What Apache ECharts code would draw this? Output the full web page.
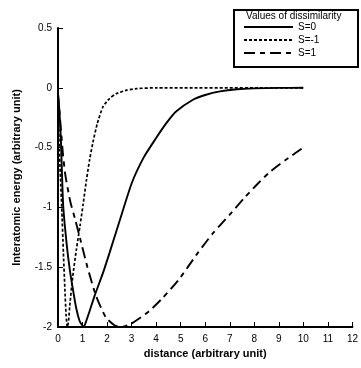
<!DOCTYPE html>
<html><head><meta charset="utf-8">
<script src="https://cdn.jsdelivr.net/npm/echarts@6/dist/echarts.min.js"></script>
<style>html,body{margin:0;padding:0;background:#fff}#c{width:361px;height:368px}</style>
</head><body><div id="c"></div>
<script>
var xTicks = [0,1,2,3,4,5,6,7,8,9,10,11,12];
var yTicks = [-2,-1.5,-1,-0.5,0,0.5];
var seriesNames = ['S=0','S=-1','S=1'];
var s0 = [[0,-0.05],[0.06,-0.2],[0.12,-0.45],[0.21,-0.98],[0.35,-1.3],[0.48,-1.52],[0.62,-1.7],[0.75,-1.85],[0.88,-1.95],[1.0,-1.99],[1.05,-2],[1.15,-1.95],[1.3,-1.86],[1.49,-1.74],[1.83,-1.55],[2.1,-1.38],[2.5,-1.12],[3.0,-0.8],[3.5,-0.58],[4.0,-0.42],[4.4,-0.3],[4.8,-0.2],[5.5,-0.1],[6.0,-0.06],[6.6,-0.03],[7.3,-0.012],[8,-0.005],[9,-0.001],[10,0]];
var s1m = [[0,-0.05],[0.04,-0.43],[0.1,-0.75],[0.15,-0.99],[0.22,-1.38],[0.28,-1.68],[0.33,-1.9],[0.38,-2],[0.43,-1.95],[0.48,-1.82],[0.6,-1.58],[0.75,-1.35],[0.9,-1.15],[1.02,-0.98],[1.16,-0.77],[1.29,-0.6],[1.42,-0.46],[1.6,-0.3],[1.83,-0.16],[2.1,-0.09],[2.37,-0.05],[2.8,-0.02],[3.2,-0.007],[4,0],[10,0]];
var s1 = [[0,-0.05],[0.1,-0.3],[0.2,-0.55],[0.3,-0.73],[0.5,-0.95],[0.7,-1.1],[0.9,-1.26],[1.2,-1.5],[1.55,-1.74],[1.95,-1.92],[2.3,-1.985],[2.6,-2],[3.0,-1.97],[3.7,-1.87],[4.25,-1.76],[4.9,-1.61],[5.7,-1.38],[6.3,-1.22],[7.0,-1.06],[7.6,-0.92],[8.15,-0.8],[8.6,-0.71],[9.3,-0.6],[10,-0.5]];

var chart = echarts.init(document.getElementById('c'), null, {renderer:'canvas'});
var ff = 'Liberation Sans, Arial, sans-serif';
chart.setOption({
  animation:false,
  color:['#000','#000','#000'],
  grid:{left:58,right:5,top:28,bottom:41},
  xAxis:{type:'value',min:0,max:12,interval:1,
    name:'distance (arbitrary unit)',nameLocation:'middle',nameGap:18,
    nameTextStyle:{fontFamily:ff,fontWeight:'bold',fontSize:11,color:'#000'},
    axisLine:{onZero:false,lineStyle:{color:'#000',width:2}},
    axisTick:{inside:true,length:5,lineStyle:{color:'#000',width:1}},
    axisLabel:{fontFamily:ff,fontSize:10,color:'#000',margin:7,formatter:function(v){return xTicks.indexOf(v)>=0?String(v):'';}},
    splitLine:{show:false}},
  yAxis:{type:'value',min:-2,max:0.5,interval:0.5,
    name:'Interatomic energy (arbitrary unit)',nameLocation:'middle',nameGap:36,
    nameTextStyle:{fontFamily:ff,fontWeight:'bold',fontSize:11,color:'#000'},
    axisLine:{show:true,onZero:false,lineStyle:{color:'#000',width:2}},
    axisTick:{show:true,inside:true,length:5,lineStyle:{color:'#000',width:1}},
    axisLabel:{fontFamily:ff,fontSize:10,color:'#000',margin:6,formatter:function(v){return yTicks.indexOf(v)>=0?String(v):'';}},
    splitLine:{show:false}},
  legend:{orient:'vertical',left:238,top:17,itemWidth:49,itemHeight:10,itemGap:3,z:20,
    itemStyle:{opacity:0},
    data:seriesNames,textStyle:{fontFamily:ff,fontSize:10,color:'#000'}},
  graphic:[
    {type:'rect',left:233,top:9,z:1,shape:{width:124,height:57},style:{fill:'transparent',stroke:'#000',lineWidth:2}},
    {type:'text',left:246,top:11,z:2,style:{text:'Values of dissimilarity',fontFamily:ff,fontSize:10,fill:'#000'}}
  ],
  series:[
    {name:'S=0',type:'line',data:s0,symbol:'none',smooth:0.2,clip:true,itemStyle:{color:'#000'},lineStyle:{color:'#000',width:1.9,type:'solid'}},
    {name:'S=-1',type:'line',data:s1m,symbol:'none',smooth:0.2,clip:true,itemStyle:{color:'#000'},lineStyle:{color:'#000',width:1.7,type:[3,2]}},
    {name:'S=1',type:'line',data:s1,symbol:'none',smooth:0.2,clip:true,itemStyle:{color:'#000'},lineStyle:{color:'#000',width:1.9,type:[11,5,5,5]}}
  ]
});
</script></body></html>
